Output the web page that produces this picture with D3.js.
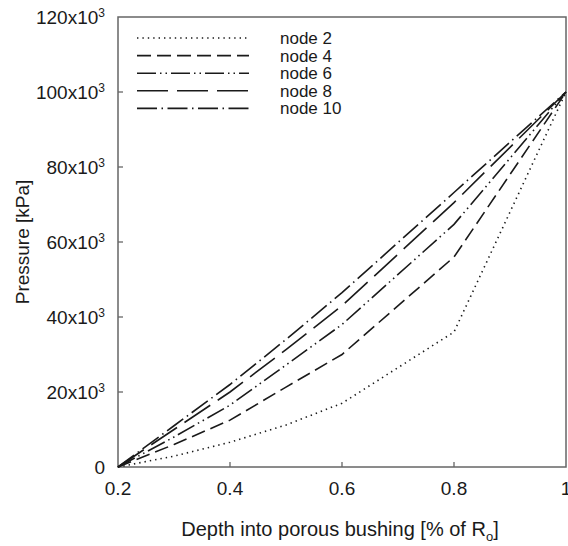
<!DOCTYPE html>
<html>
<head>
<meta charset="utf-8">
<style>
  body { margin: 0; background: #fff; }
  text { font-family: "Liberation Sans", Arial, sans-serif; fill: #1a1a1a; }
</style>
</head>
<body>
  <svg id="svg" width="568" height="546"></svg>

  <script src="https://cdn.jsdelivr.net/npm/d3@7"></script>
  <script type="text/javascript">
  // depth [fraction of Ro] and pressure [kPa]
  const depth  = [0.2, 0.3, 0.4, 0.5, 0.6, 0.8, 1.0];
  const node2  = [0, 2900, 6600, 11200, 17000, 36000, 100000];
  const node4  = [0, 6000, 12500, 21300, 30000, 56000, 100000];
  const node6  = [0, 8000, 16500, 27200, 38000, 64700, 100000];
  const node8  = [0, 10000, 20000, 31300, 43000, 70500, 100000];
  const node10 = [0, 11000, 22000, 34000, 46500, 73200, 100000];

  const names  = ["node 2", "node 4", "node 6", "node 8", "node 10"];
  const xTicks = [0.2, 0.4, 0.6, 0.8, 1.0];
  const yTicks = [0, 20000, 40000, 60000, 80000, 100000, 120000];

  const dashes = ["1.4,4", "14,6", "19,4,1.5,4,1.5,4", "31,9", "20,4.5,1.5,4.5"];
  const series = [node2, node4, node6, node8, node10].map((vals, i) => ({
    name: names[i],
    dash: dashes[i],
    pts: depth.map((d, j) => [d, vals[j]])
  }));

  const m = {left: 118, top: 17, right: 2, bottom: 79};
  const W = 568, H = 546;
  const svg = d3.select("#svg");

  const x = d3.scaleLinear().domain([0.2, 1]).range([m.left, W - m.right]);
  const y = d3.scaleLinear().domain([0, 120000]).range([H - m.bottom, m.top]);

  // frame
  svg.append("rect")
    .attr("x", x(0.2)).attr("y", y(120000))
    .attr("width", x(1) - x(0.2)).attr("height", y(0) - y(120000))
    .attr("fill", "none").attr("stroke", "#666").attr("stroke-width", 1.5);

  // inward ticks
  svg.append("g").selectAll("line").data(xTicks.slice(1, -1)).enter().append("line")
    .attr("x1", d => x(d)).attr("x2", d => x(d))
    .attr("y1", y(0)).attr("y2", y(0) - 5)
    .attr("stroke", "#666").attr("stroke-width", 1.3);
  svg.append("g").selectAll("line").data(yTicks.slice(1, -1)).enter().append("line")
    .attr("x1", x(0.2)).attr("x2", x(0.2) + 5)
    .attr("y1", d => y(d)).attr("y2", d => y(d))
    .attr("stroke", "#666").attr("stroke-width", 1.3);

  // x tick labels
  svg.append("g").selectAll("text").data(xTicks).enter().append("text")
    .attr("x", d => x(d)).attr("y", y(0) + 28)
    .attr("text-anchor", "middle").attr("font-size", 19)
    .text(d => d3.format("~g")(d));

  // y tick labels
  const yl = svg.append("g").selectAll("text").data(yTicks).enter().append("text")
    .attr("x", x(0.2) - 13).attr("y", d => y(d) + 7)
    .attr("text-anchor", "end").attr("font-size", 19);
  yl.each(function (d) {
    const t = d3.select(this);
    if (d === 0) { t.text("0"); return; }
    t.append("tspan").text((d / 1000) + "x10");
    t.append("tspan").attr("dy", -7).attr("font-size", 12).text("3");
  });

  // axis titles
  const xt = svg.append("text")
    .attr("x", (x(0.2) + x(1)) / 2 - 2).attr("y", 536)
    .attr("text-anchor", "middle").attr("font-size", 20);
  xt.append("tspan").text("Depth into porous bushing [% of R");
  xt.append("tspan").attr("dy", 5).attr("font-size", 13).text("o");
  xt.append("tspan").attr("dy", -5).text("]");

  svg.append("text")
    .attr("transform", "translate(29," + ((y(0) + y(120000)) / 2) + ") rotate(-90)")
    .attr("text-anchor", "middle").attr("font-size", 19)
    .text("Pressure [kPa]");

  // lines
  const line = d3.line().x(d => x(d[0])).y(d => y(d[1]));
  svg.append("g").selectAll("path").data(series).enter().append("path")
    .attr("d", d => line(d.pts))
    .attr("fill", "none").attr("stroke", "#1a1a1a")
    .attr("stroke-width", 1.6)
    .attr("stroke-dasharray", d => d.dash);

  // legend
  const lg = svg.append("g").selectAll("g").data(series).enter().append("g")
    .attr("transform", (d, i) => "translate(0," + (38 + i * 17.6) + ")");
  lg.append("line")
    .attr("x1", 137).attr("x2", 249).attr("y1", 0).attr("y2", 0)
    .attr("stroke", "#1a1a1a").attr("stroke-width", 1.6)
    .attr("stroke-dasharray", d => d.dash);
  lg.append("text")
    .attr("x", 280).attr("y", 6).attr("font-size", 17)
    .text(d => d.name);
  </script>
</body>
</html>
